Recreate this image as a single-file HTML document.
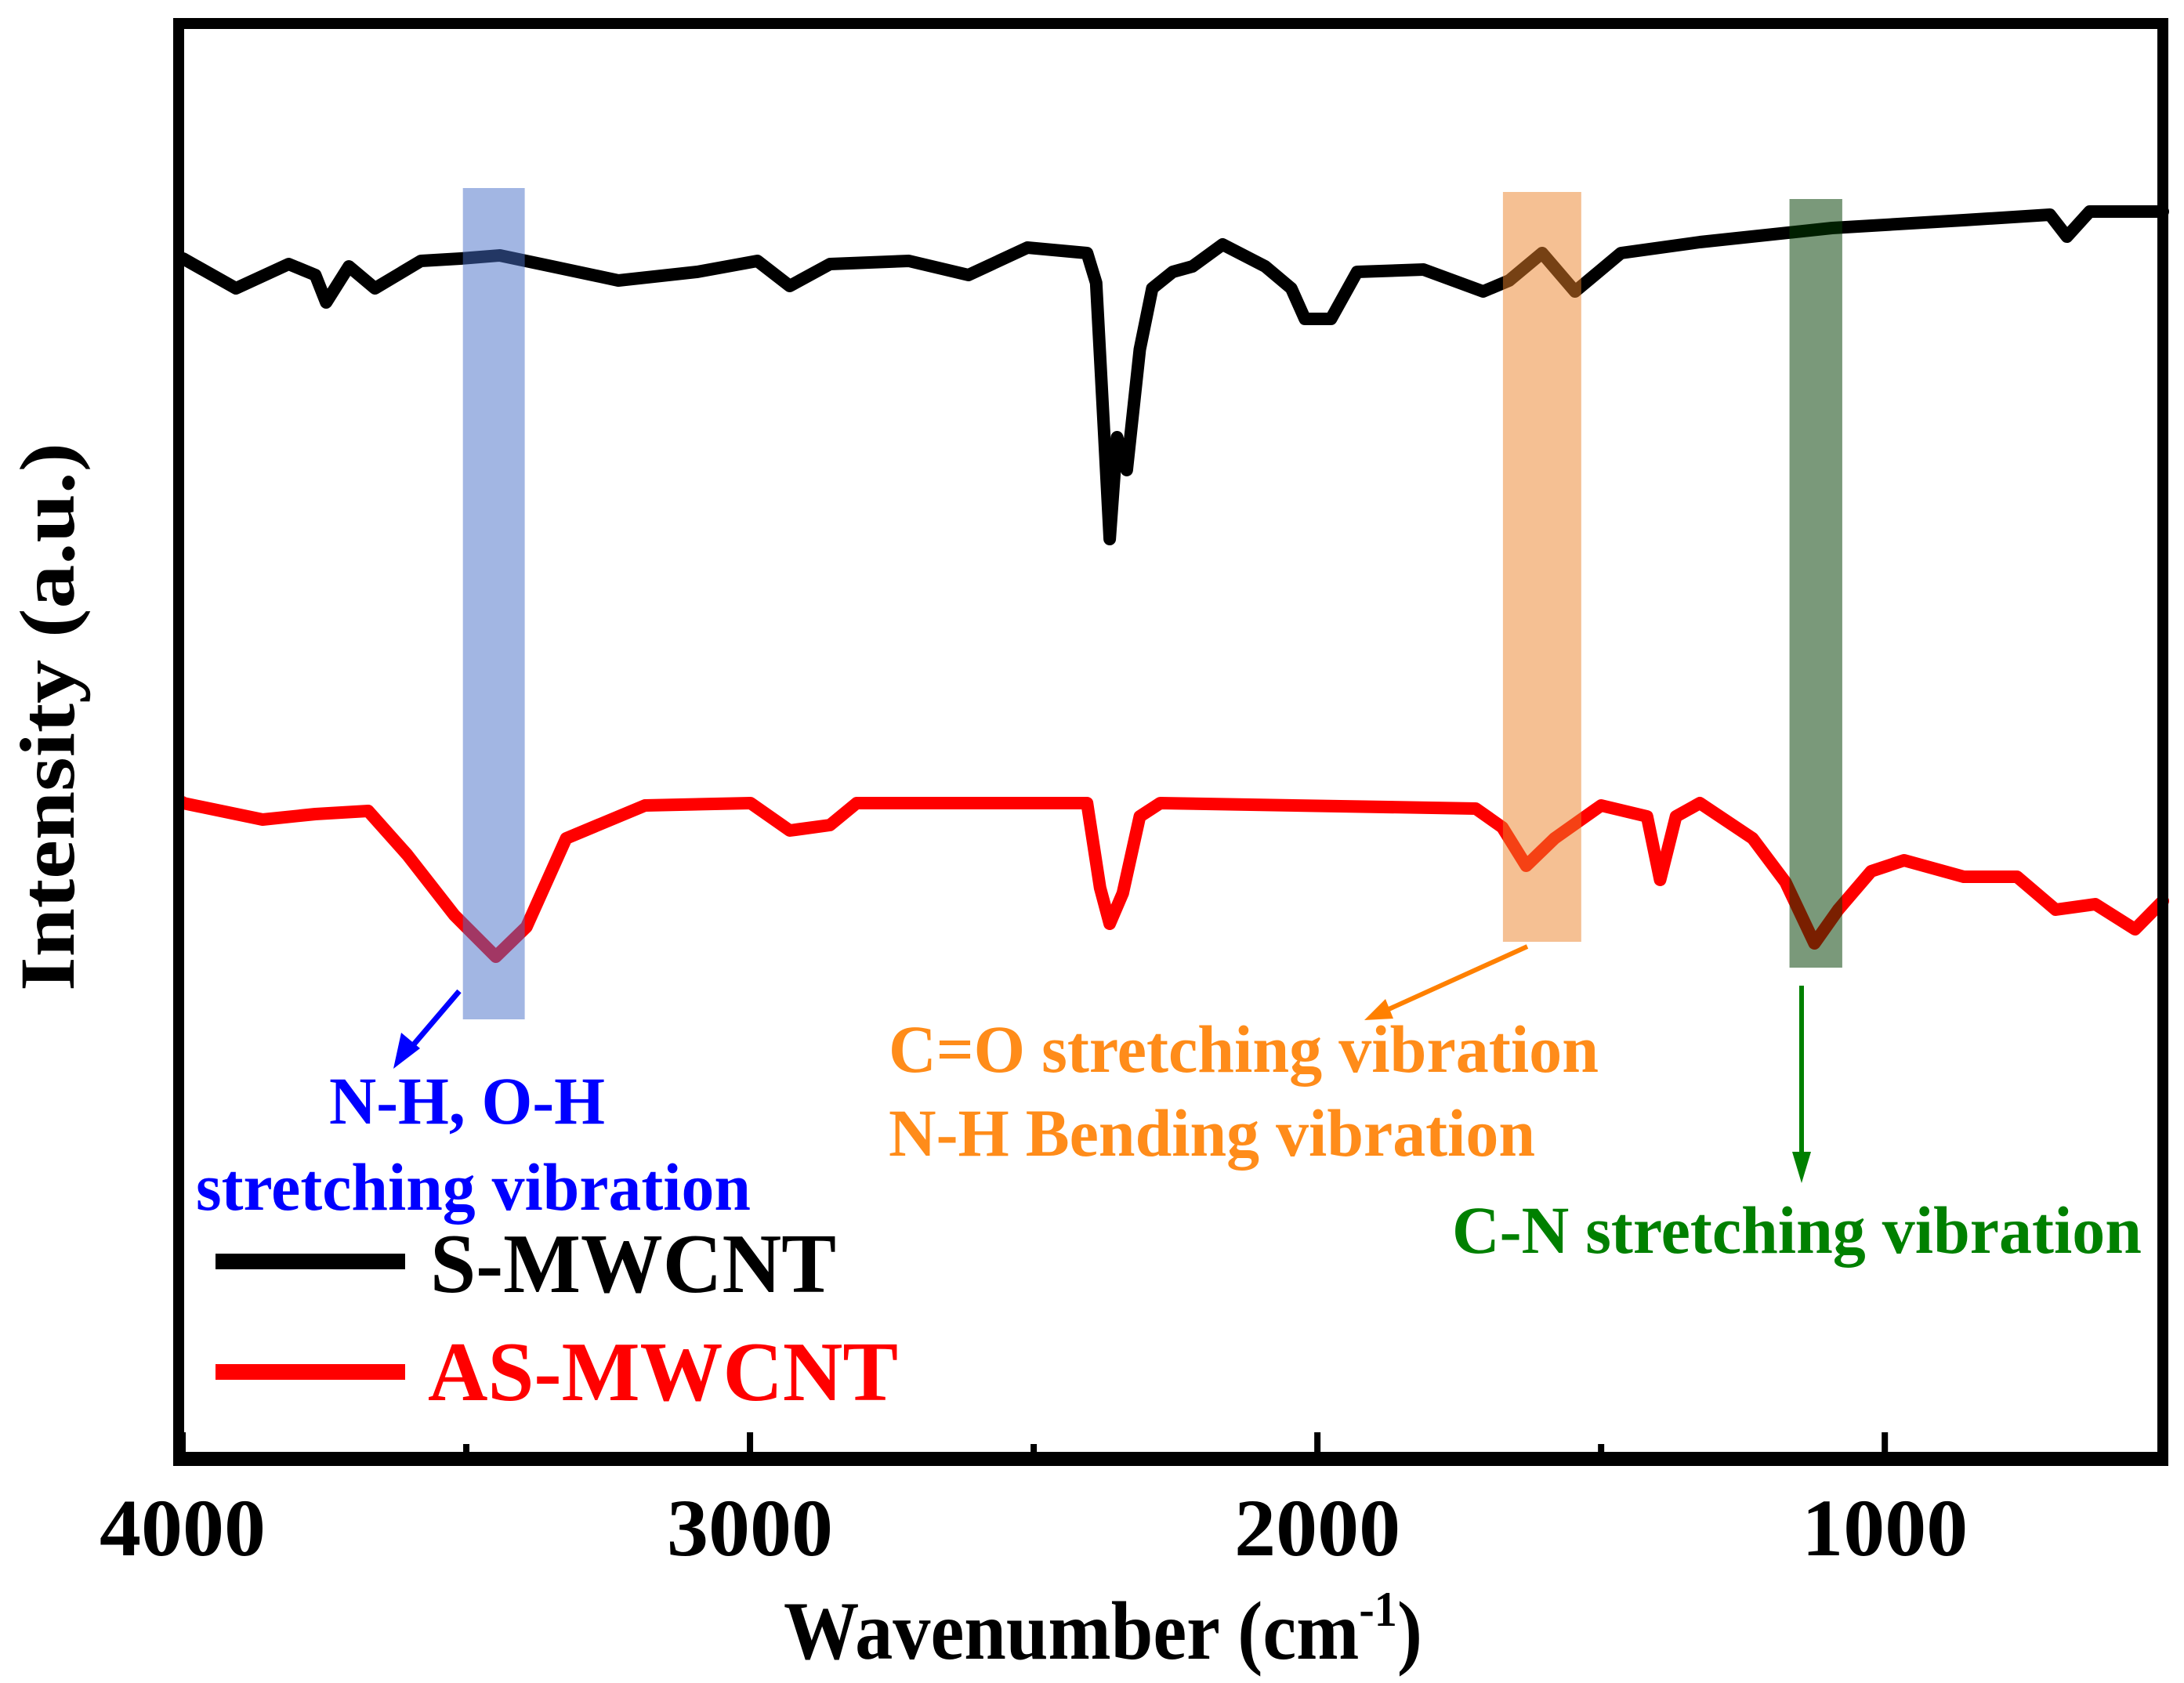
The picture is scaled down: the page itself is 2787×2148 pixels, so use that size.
<!DOCTYPE html>
<html><head><meta charset="utf-8"><style>html,body{margin:0;padding:0;background:#fff}svg{display:block}</style></head>
<body>
<svg id="chart" xmlns="http://www.w3.org/2000/svg" width="2787" height="2148" viewBox="0 0 2787 2148" font-family="'Liberation Serif', serif" font-weight="bold">
<rect x="0" y="0" width="2787" height="2148" fill="#fff"/>
<g id="bands"></g>
<g id="series"></g>
<g id="frame"></g>
<g id="ticks"></g>
<g>
  <line x1="586" y1="1265" x2="522" y2="1340" stroke="#0000ff" stroke-width="7"/>
  <polygon points="502,1364 512,1318 536,1338" fill="#0000ff"/>
  <text x="596" y="1434" text-anchor="middle" font-size="86" fill="#0000ff" textLength="352" lengthAdjust="spacingAndGlyphs">N-H, O-H</text>
  <text x="604" y="1544" text-anchor="middle" font-size="86" fill="#0000ff" textLength="708" lengthAdjust="spacingAndGlyphs">stretching vibration</text>
  <line x1="1949" y1="1208" x2="1770" y2="1289" stroke="#ff8000" stroke-width="6"/>
  <polygon points="1741,1302 1768,1275 1778,1300" fill="#ff8000"/>
  <text x="1134" y="1368" font-size="86" fill="#ff8c1a" textLength="906" lengthAdjust="spacingAndGlyphs">C=O stretching vibration</text>
  <text x="1134" y="1475" font-size="86" fill="#ff8c1a" textLength="825" lengthAdjust="spacingAndGlyphs">N-H Bending vibration</text>
  <line x1="2299" y1="1258" x2="2299" y2="1480" stroke="#008000" stroke-width="6"/>
  <polygon points="2287,1470 2311,1470 2299,1510" fill="#008000"/>
  <text x="1853" y="1599" font-size="86" fill="#008000" textLength="880" lengthAdjust="spacingAndGlyphs">C-N stretching vibration</text>
</g>
<g>
  <line x1="275" y1="1610" x2="517" y2="1610" stroke="#000" stroke-width="20"/>
  <text x="549" y="1649" font-size="108" fill="#000" textLength="518" lengthAdjust="spacingAndGlyphs">S-MWCNT</text>
  <line x1="275" y1="1751" x2="517" y2="1751" stroke="#ff0000" stroke-width="20"/>
  <text x="546" y="1787" font-size="108" fill="#ff0000" textLength="600" lengthAdjust="spacingAndGlyphs">AS-MWCNT</text>
</g>
<text x="1000" y="2117" font-size="106" fill="#000" textLength="815" lengthAdjust="spacingAndGlyphs">Wavenumber (cm<tspan font-size="64" dy="-42">-1</tspan><tspan dy="42">)</tspan></text>
<text transform="translate(94,915) rotate(-90)" text-anchor="middle" font-size="100" fill="#000" textLength="700" lengthAdjust="spacingAndGlyphs">Intensity (a.u.)</text>
</svg>
<script>
const sWave = [4000,3999,3906,3813,3766,3747,3707,3661,3580,3510,3441,3349,3232,3093,2987,2930,2859,2720,2615,2511,2406,2390,2376,2366,2353,2336,2313,2291,2255,2220,2167,2092,2046,2022,1976,1930,1813,1708,1662,1604,1546,1465,1326,1093,861,709,679,639,510];
const sVals = [152.8,153.0,149.2,152.3,150.9,147.4,152,149.2,152.7,153,153.4,152,150.2,151.3,152.7,149.5,152.3,152.7,150.9,154.4,153.7,149.9,130.9,117.2,130.2,126,141.4,149.2,151.3,152,154.8,152,149.2,145.3,145.3,151.3,151.6,148.8,150.2,153.7,148.8,153.7,155.1,156.9,157.9,158.6,155.8,159,159];
const asWave = [4000,3999,3859,3766,3673,3604,3521,3448,3394,3324,3185,2999,2930,2859,2812,2406,2383,2366,2343,2313,2277,1721,1674,1632,1582,1500,1419,1396,1368,1326,1233,1175,1124,1082,1024,966,861,767,699,629,559,510];
const asVals = [83.6,83.5,81.4,82.1,82.5,76.9,69.2,63.9,67.7,79,83.2,83.5,80,80.7,83.5,83.5,72.7,68.1,72,81.8,83.5,82.8,80.4,75.5,79,83.2,81.8,73.7,81.8,83.5,79,73.4,65.6,69.9,74.8,76.2,74.1,74.1,69.9,70.6,67.4,71];
const bandStart = [3506,1673,1168];
const bandEnd = [3397,1535,1075];
const bandTop = [162,161.5,160.6];
const bandBottom = [55.9,65.8,62.5];
const majorTicks = [4000,3000,2000,1000];
const majorLabels = ["4000","3000","2000","1000"];
const minorTicks = [3500,2500,1500];

const NS = "http://www.w3.org/2000/svg";
const X0 = 233, XR = 2760, W0 = 4000, W1 = 510;
function xs(w){ return X0 + (W0 - w) * (XR - X0) / (W0 - W1); }
function ys(v){ return 1860 - v * 10; }
function mk(tag, attrs, parent){ const e = document.createElementNS(NS, tag); for (const k in attrs) e.setAttribute(k, attrs[k]); parent.appendChild(e); return e; }

const bands = document.getElementById('bands');
const bandColors = ["rgba(70,110,200,0.5)","rgba(235,130,40,0.5)","rgba(0,60,0,0.52)"];
const bandNames = ["band-nh-oh","band-co","band-cn"];
for (let i = 0; i < bandStart.length; i++) {
  const r = mk('rect', {x: xs(bandStart[i]), y: ys(bandTop[i]), width: xs(bandEnd[i]) - xs(bandStart[i]), height: ys(bandBottom[i]) - ys(bandTop[i]), fill: bandColors[i]}, bands);
  
  
}
const series = document.getElementById('series');
function line(wv, vals, color, name){
  const d = wv.map((w, i) => (i ? 'L' : 'M') + xs(w).toFixed(1) + ',' + ys(vals[i]).toFixed(1)).join(' ');
  const p = mk('path', {d: d, fill: 'none', stroke: color, 'stroke-width': 16, 'stroke-linejoin': 'round', 'stroke-linecap': 'round'}, series);
  
  
}
line(sWave, sVals, '#000', 'series-s-mwcnt');
line(asWave, asVals, '#ff0000', 'series-as-mwcnt');
series.parentNode.insertBefore(series, bands);

const frame = document.getElementById('frame');
const f1 = mk('rect', {x: 228, y: 30, width: 2532, height: 1832, fill: 'none', stroke: '#000', 'stroke-width': 14}, frame);


const f2 = mk('line', {x1: 221, y1: 1862, x2: 2767, y2: 1862, stroke: '#000', 'stroke-width': 18}, frame);


const ticks = document.getElementById('ticks');
for (let i = 0; i < majorTicks.length; i++) {
  const x = xs(majorTicks[i]);
  const t = mk('line', {x1: x, y1: 1828, x2: x, y2: 1856, stroke: '#000', 'stroke-width': 8}, ticks);
  
  
  const lb = mk('text', {x: x, y: 1985, 'text-anchor': 'middle', 'font-size': 104, fill: '#000', textLength: 212, lengthAdjust: 'spacingAndGlyphs'}, ticks);
  lb.textContent = majorLabels[i];
  
  
}
for (let i = 0; i < minorTicks.length; i++) {
  const x = xs(minorTicks[i]);
  const t = mk('line', {x1: x, y1: 1843, x2: x, y2: 1856, stroke: '#000', 'stroke-width': 8}, ticks);
  
  
}
</script>
</body></html>
